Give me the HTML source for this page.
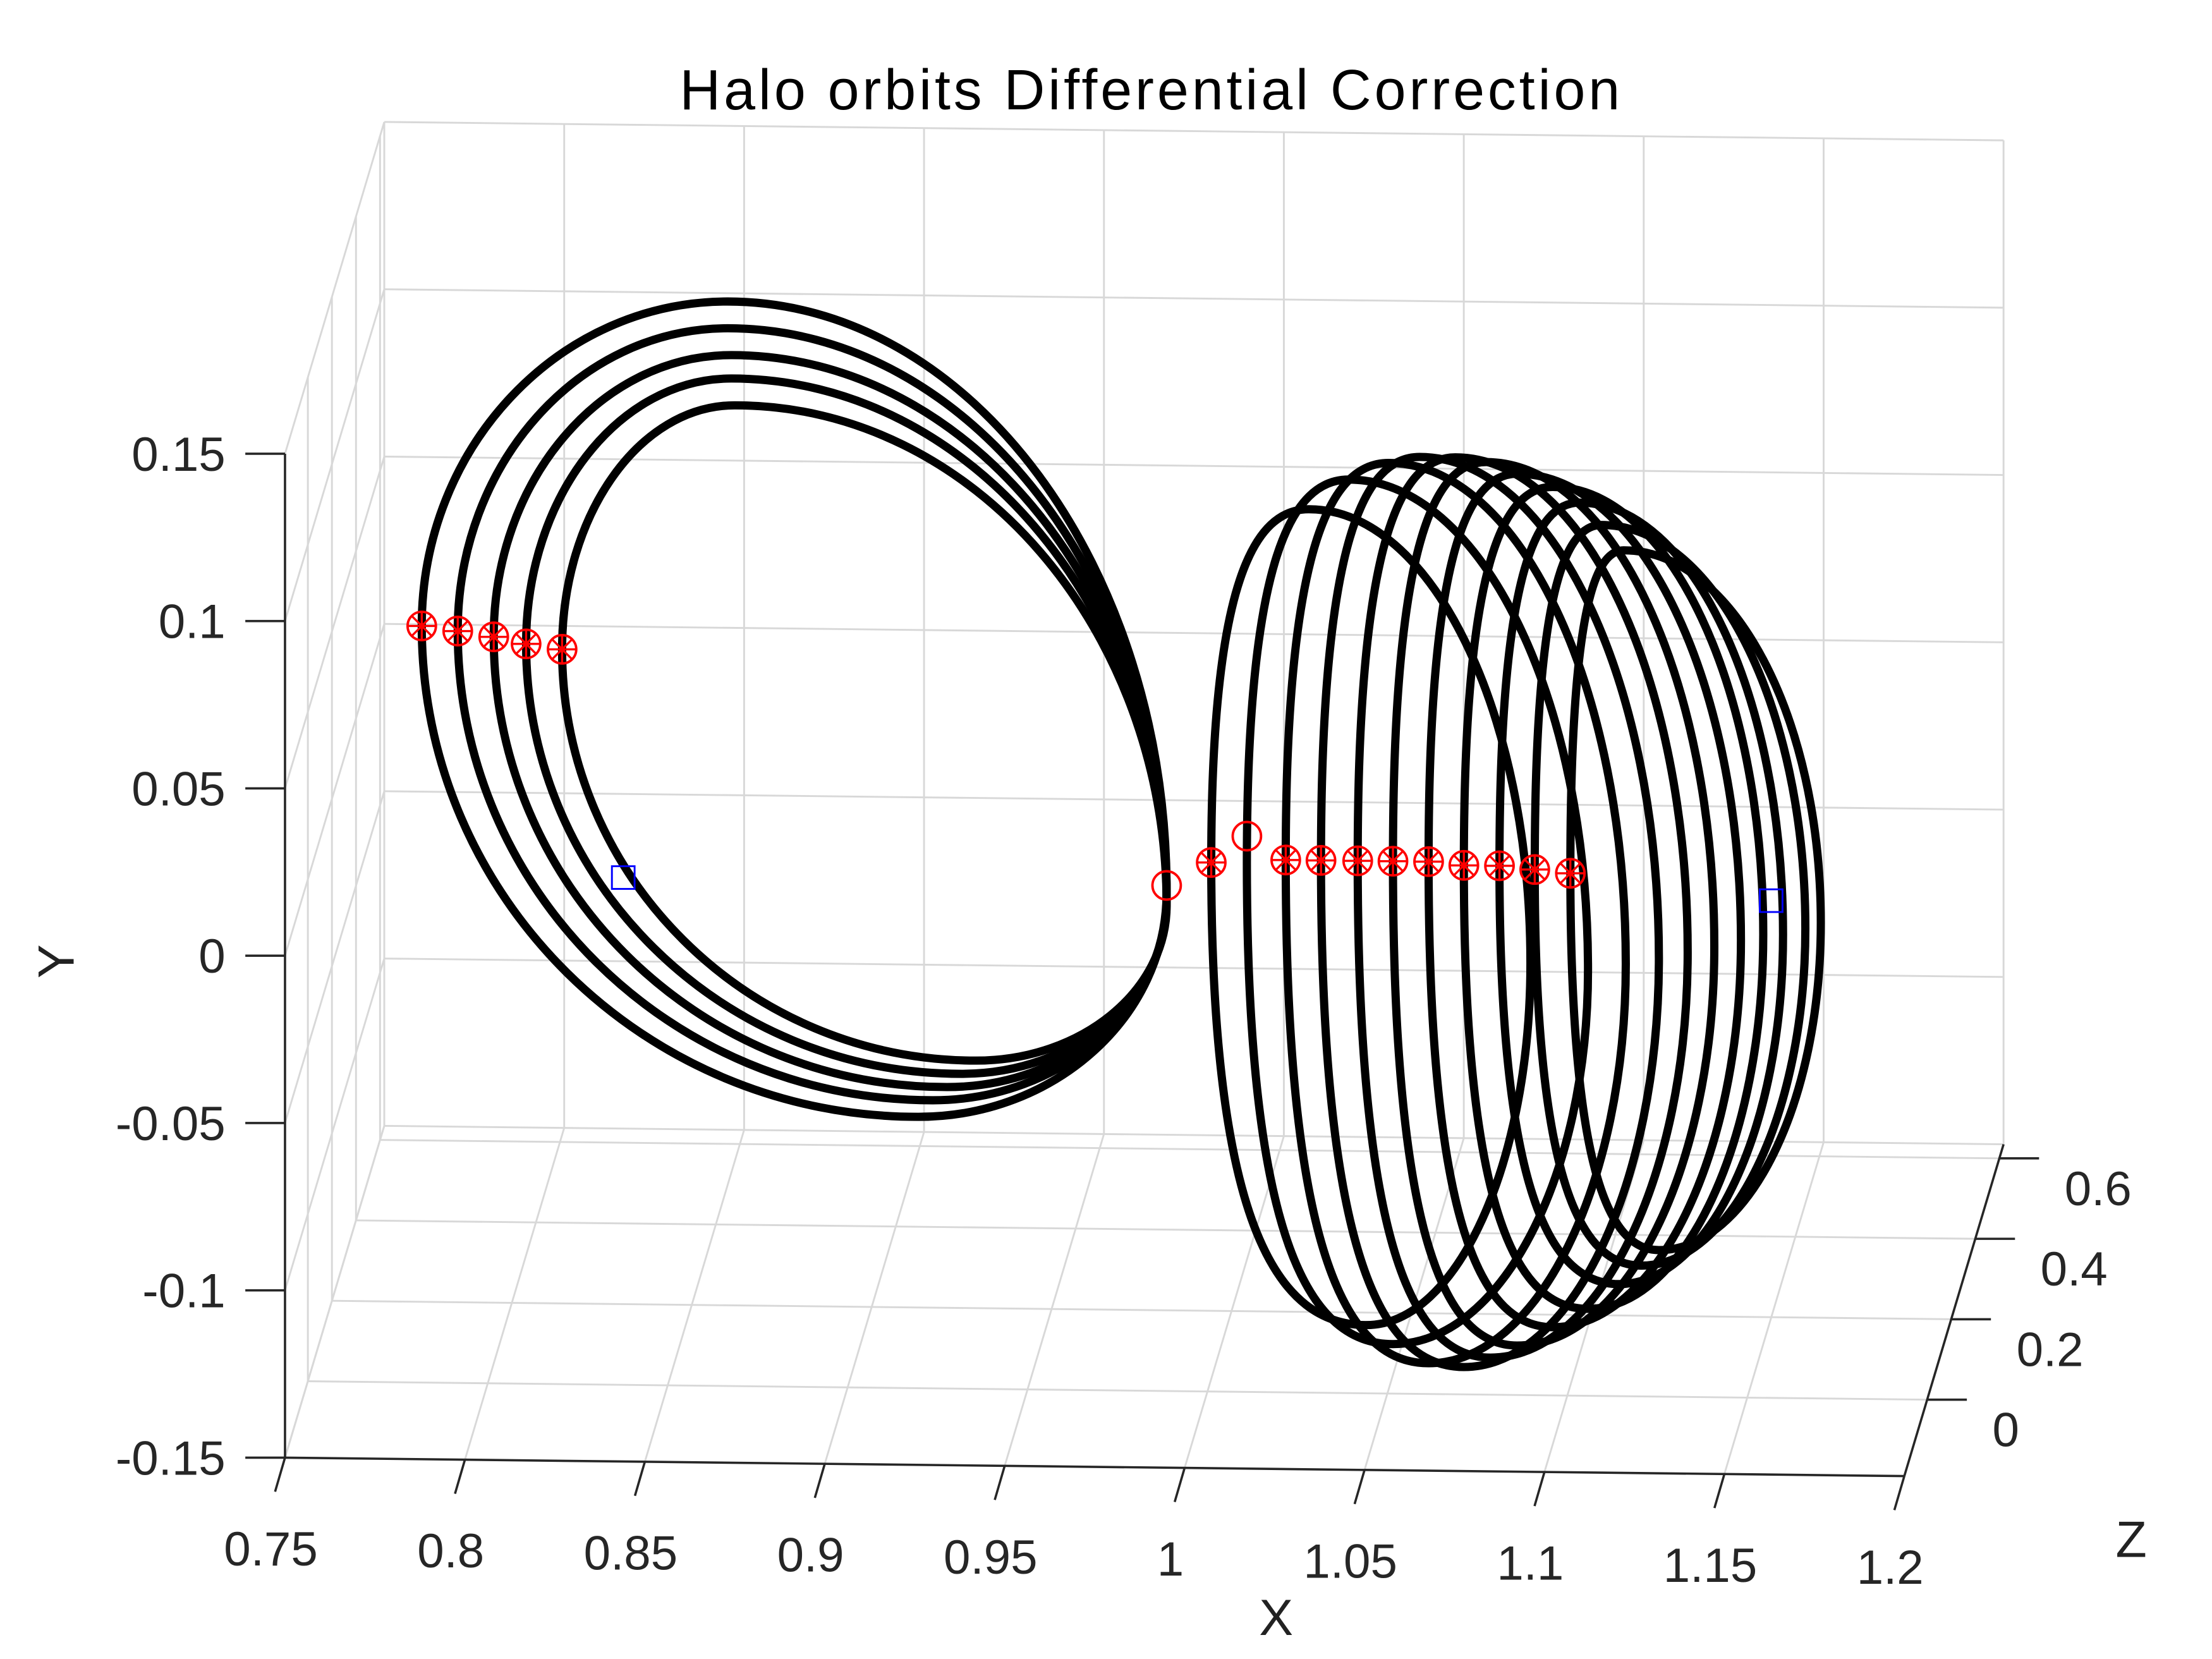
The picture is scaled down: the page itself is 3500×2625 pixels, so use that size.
<!DOCTYPE html>
<html><head><meta charset="utf-8"><style>
html,body{margin:0;padding:0;background:#fff;}
svg{display:block;font-family:"Liberation Sans",sans-serif;}
</style></head><body>
<svg id="chart" xmlns="http://www.w3.org/2000/svg" width="3500" height="2625" viewBox="0 0 1560 1170">
<rect width="1560" height="1170" fill="#fff"/>
<g id="grid"></g>
<g id="axes"></g>
<g id="orbits"></g>
<g id="marks"></g>
<text x="812" y="77" font-size="40" letter-spacing="2.2" text-anchor="middle" fill="#000">Halo orbits Differential Correction</text>
<text x="900" y="1153" font-size="36" text-anchor="middle" fill="#222">X</text>
<text x="52" y="678" font-size="36" text-anchor="middle" fill="#222" transform="rotate(-90 52 678)">Y</text>
<text x="1503" y="1098" font-size="36" text-anchor="middle" fill="#222">Z</text>
</svg>
<script>
const xTicks=[0.75,0.8,0.85,0.9,0.95,1,1.05,1.1,1.15,1.2];
const xTickLabels=["0.75","0.8","0.85","0.9","0.95","1","1.05","1.1","1.15","1.2"];
const yTicks=[-0.15,-0.1,-0.05,0,0.05,0.1,0.15];
const yTickLabels=["-0.15","-0.1","-0.05","0","0.05","0.1","0.15"];
const zTicks=[0,0.2,0.4,0.6];
const zTickLabels=["0","0.2","0.4","0.6"];
// L1 family (5 orbits): extreme points
const l1LeftX=[0.788,0.798,0.808,0.817,0.827];
const l1LeftY=[0.099,0.0976,0.096,0.094,0.0925];
const l1TopX=[0.873,0.873,0.874,0.874,0.875];
const l1TopY=[0.197,0.189,0.181,0.174,0.166];
const l1RightX=[0.995,0.995,0.995,0.995,0.995];
const l1RightY=[0.022,0.021,0.020,0.019,0.018];
const l1BotX=[0.926,0.930,0.934,0.938,0.942];
const l1BotY=[-0.046,-0.041,-0.037,-0.033,-0.029];
// L2 family (11 orbits)
const l2LeftX=[1.0074,1.0173,1.0281,1.0379,1.0481,1.0579,1.0678,1.0776,1.0875,1.0973,1.1072];
const l2LeftY=[0.031,0.031,0.032,0.032,0.032,0.032,0.032,0.031,0.031,0.030,0.030];
const l2TopX=[1.0345,1.0456,1.0567,1.0653,1.0752,1.0838,1.0924,1.1023,1.1097,1.1158,1.1220];
const l2TopY=[0.1369,0.1459,0.1510,0.1529,0.1529,0.1516,0.1482,0.1444,0.1398,0.1332,0.1257];
const l2RightX=[1.0961,1.1121,1.1226,1.1318,1.1398,1.1472,1.1546,1.1608,1.1663,1.1725,1.1768];
const l2RightY=[0.0020,0.0002,0.0020,0.0039,0.0058,0.0076,0.0095,0.0114,0.0114,0.0133,0.0151];
const l2BotX=[1.0505,1.0579,1.0678,1.0776,1.0850,1.0924,1.1023,1.1121,1.1207,1.1269,1.1318];
const l2BotY=[-0.1067,-0.1123,-0.1179,-0.1189,-0.1160,-0.1123,-0.1067,-0.1011,-0.0936,-0.0880,-0.0833];
const markerStarX=[0.788,0.798,0.808,0.817,0.827,1.0074,1.0281,1.0379,1.0481,1.0579,1.0678,1.0776,1.0875,1.0973,1.1072];
const markerStarY=[0.099,0.0976,0.096,0.094,0.0925,0.031,0.032,0.032,0.032,0.032,0.032,0.031,0.031,0.030,0.029];
const markerCircleX=[0.995,1.0173];
const markerCircleY=[0.024,0.039];
const squareX=[0.844,1.163];
const squareY=[0.0245,0.0215];

const ZMIN=-0.19,ZMAX=0.635;
const NS="http://www.w3.org/2000/svg";
function P(x,y,z){const tx=(x-0.75)/0.45,ty=(y+0.15)/0.3,tz=(z-ZMIN)/(ZMAX-ZMIN);
 return [201+1142*tx+70*tz,1028+13*tx-708*ty-234*tz];}
function line(g,a,b,stroke,w){const l=document.createElementNS(NS,'line');
 l.setAttribute('x1',a[0]);l.setAttribute('y1',a[1]);l.setAttribute('x2',b[0]);l.setAttribute('y2',b[1]);
 l.setAttribute('stroke',stroke);l.setAttribute('stroke-width',w);g.appendChild(l);return l;}
function text(g,x,y,s,anchor){const t=document.createElementNS(NS,'text');
 t.setAttribute('x',x);t.setAttribute('y',y);t.setAttribute('font-size','34');t.setAttribute('fill','#262626');
 t.setAttribute('text-anchor',anchor);t.textContent=s;g.appendChild(t);return t;}
const grid=document.getElementById('grid'),axes=document.getElementById('axes');
const GC='#d8d8d8',GW=1.3;
const Y0=-0.15,Y1=0.15,X0=0.75,X1=1.2;
xTicks.forEach(x=>{
 let l=line(grid,P(x,Y0,ZMAX),P(x,Y1,ZMAX),GC,GW);
 
 
 l=line(grid,P(x,Y0,ZMIN),P(x,Y0,ZMAX),GC,GW);
 
 
});
yTicks.forEach(y=>{
 let l=line(grid,P(X0,y,ZMAX),P(X1,y,ZMAX),GC,GW);
 
 
 l=line(grid,P(X0,y,ZMIN),P(X0,y,ZMAX),GC,GW);
 
 
});
zTicks.forEach(z=>{
 let l=line(grid,P(X0,Y0,z),P(X1,Y0,z),GC,GW);
 
 
 l=line(grid,P(X0,Y0,z),P(X0,Y1,z),GC,GW);
 
 
});
let a=line(axes,P(X0,Y0,ZMIN),P(X1,Y0,ZMIN),'#262626',1.6);


a=line(axes,P(X0,Y0,ZMIN),P(X0,Y1,ZMIN),'#262626',1.6);


a=line(axes,P(X1,Y0,ZMIN),P(X1,Y0,ZMAX),'#262626',1.6);


xTicks.forEach((x,i)=>{const p=P(x,Y0,ZMIN);
 let t=line(axes,p,[p[0]-7,p[1]+24],'#262626',1.6);
 
 
 const s=text(axes,p[0]-10,p[1]+76,xTickLabels[i],'middle');
 
 });
yTicks.forEach((y,i)=>{const p=P(X0,y,ZMIN);
 let t=line(axes,p,[p[0]-28,p[1]],'#262626',1.6);
 
 
 const s=text(axes,p[0]-42,p[1]+12,yTickLabels[i],'end');
 
 });
zTicks.forEach((z,i)=>{const p=P(X1,Y0,z);
 let t=line(axes,p,[p[0]+28,p[1]],'#262626',1.6);
 
 
 const s=text(axes,p[0]+46,p[1]+33,zTickLabels[i],'start');
 
 });
const orbits=document.getElementById('orbits');
function orbitPath(L,T,R,B,kl){
 const f=0.552;
 let d=`M${L[0]},${L[1]}`;
 d+=` C${L[0]},${L[1]-kl*(L[1]-T[1])} ${T[0]-f*(T[0]-L[0])},${T[1]} ${T[0]},${T[1]}`;
 d+=` C${T[0]+f*(R[0]-T[0])},${T[1]} ${R[0]},${R[1]-f*(R[1]-T[1])} ${R[0]},${R[1]}`;
 d+=` C${R[0]},${R[1]+f*(B[1]-R[1])} ${B[0]+f*(R[0]-B[0])},${B[1]} ${B[0]},${B[1]}`;
 d+=` C${B[0]-f*(B[0]-L[0])},${B[1]} ${L[0]},${L[1]+kl*(B[1]-L[1])} ${L[0]},${L[1]}Z`;
 const p=document.createElementNS(NS,'path');
 p.setAttribute('d',d);p.setAttribute('fill','none');p.setAttribute('stroke','#000');
 p.setAttribute('stroke-width','5.8');p.setAttribute('stroke-linejoin','round');
 orbits.appendChild(p);return p;}
l1LeftX.forEach((_,i)=>{
 const p=orbitPath(P(l1LeftX[i],l1LeftY[i],ZMIN),P(l1TopX[i],l1TopY[i],ZMIN),P(l1RightX[i],l1RightY[i],ZMIN),P(l1BotX[i],l1BotY[i],ZMIN),0.552);
 
 
});
l2LeftX.forEach((_,i)=>{
 const p=orbitPath(P(l2LeftX[i],l2LeftY[i],ZMIN),P(l2TopX[i],l2TopY[i],ZMIN),P(l2RightX[i],l2RightY[i],ZMIN),P(l2BotX[i],l2BotY[i],ZMIN),0.8);
 
 
});
const marks=document.getElementById('marks');
function circ(c,r){const e=document.createElementNS(NS,'circle');e.setAttribute('cx',c[0]);e.setAttribute('cy',c[1]);
 e.setAttribute('r',r);e.setAttribute('fill','none');e.setAttribute('stroke','#f00');e.setAttribute('stroke-width','1.7');marks.appendChild(e);return e;}
markerStarX.forEach((x,i)=>{const c=P(x,markerStarY[i],ZMIN);
 const e=circ(c,10);
 
 
 const g=document.createElementNS(NS,'g');
 
 
 marks.appendChild(g);
 [[0,-10,0,10],[-10,0,10,0],[-7,-7,7,7],[-7,7,7,-7]].forEach(s=>line(g,[c[0]+s[0],c[1]+s[1]],[c[0]+s[2],c[1]+s[3]],'#f00',1.5));
});
markerCircleX.forEach((x,i)=>{const e=circ(P(x,markerCircleY[i],ZMIN),10);
 
 });
squareX.forEach((x,i)=>{const c=P(x,squareY[i],ZMIN);const r=document.createElementNS(NS,'rect');
 r.setAttribute('x',c[0]-8);r.setAttribute('y',c[1]-8);r.setAttribute('width',16);r.setAttribute('height',16);
 r.setAttribute('fill','none');r.setAttribute('stroke','#00f');r.setAttribute('stroke-width','1.3');
 
 
 marks.appendChild(r);});
</script>
</body></html>
